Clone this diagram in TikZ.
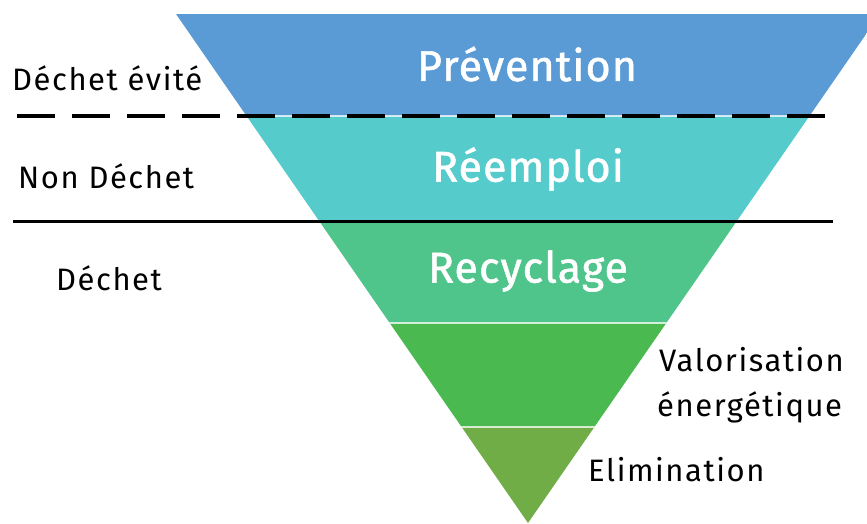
\documentclass[tikz,border=0pt]{standalone}
\usepackage{fontspec}
\setmainfont{Fira Sans}
\newfontfamily\sidefont{Fira Sans}[LetterSpace=5]
\newfontfamily\bandfont{Fira Sans}[LetterSpace=2.5,FakeBold=1.3]
\definecolor{cprev}{HTML}{5B9BD5}
\definecolor{creem}{HTML}{55CBCB}
\definecolor{crecy}{HTML}{4FC58B}
\definecolor{cvalo}{HTML}{4AB94F}
\definecolor{celim}{HTML}{70AD47}
\tikzset{
  bandlabel/.style={text=white, font=\bandfont\fontsize{43}{46}\selectfont, inner sep=0pt},
  sidelabel/.style={text=black, font=\sidefont\fontsize{31}{33}\selectfont, inner sep=0pt},
  separator/.style={draw=white, draw opacity=0.75, line width=1.6pt},
}
\begin{document}
\begin{tikzpicture}[x=1pt,y=-1pt]
\useasboundingbox (0,0) rectangle (867,523);
\begin{scope}
  \clip (0,0) rectangle (867,523);
  \clip (176,14) -- (880,14) -- (528,523) -- cycle;
  \fill[cprev] (0,14) rectangle (900,116);
  \fill[creem] (0,116) rectangle (900,221);
  \fill[crecy] (0,221) rectangle (900,323);
  \fill[cvalo] (0,323) rectangle (900,427);
  \fill[celim] (0,427) rectangle (900,530);
  \draw[separator] (0,116) -- (900,116);
  \draw[separator] (0,221) -- (900,221);
  \draw[separator] (0,323) -- (900,323);
  \draw[separator] (0,427) -- (900,427);
\end{scope}
% dividers
\coordinate (dashL) at (17,116);
\coordinate (dashR) at (829,116);
\coordinate (solL) at (13,221);
\coordinate (solR) at (833,221);
\draw[black, line width=4pt, dash pattern=on 38pt off 17pt] (dashL) -- (dashR);
\draw[black, line width=3pt] (solL) -- (solR);
% labels
\node[bandlabel] (prev) at (527,64) {Prévention};
\node[bandlabel] (reem) at (528,169) {Réemploi};
\node[bandlabel] (recy) at (528,271) {Recyclage};
\node[sidelabel, anchor=west] (evite) at (12,78) {Déchet évité};
\node[sidelabel, anchor=west] (nond) at (18,176) {Non Déchet};
\node[sidelabel, anchor=west] (dech) at (56,278) {Déchet};
\node[sidelabel, anchor=west] (valo) at (659,360) {Valorisation};
\node[sidelabel, anchor=west] (ener) at (657,407) {énergétique};
\node[sidelabel, anchor=west] (elim) at (588,470) {Elimination};
\end{tikzpicture}
\end{document}
